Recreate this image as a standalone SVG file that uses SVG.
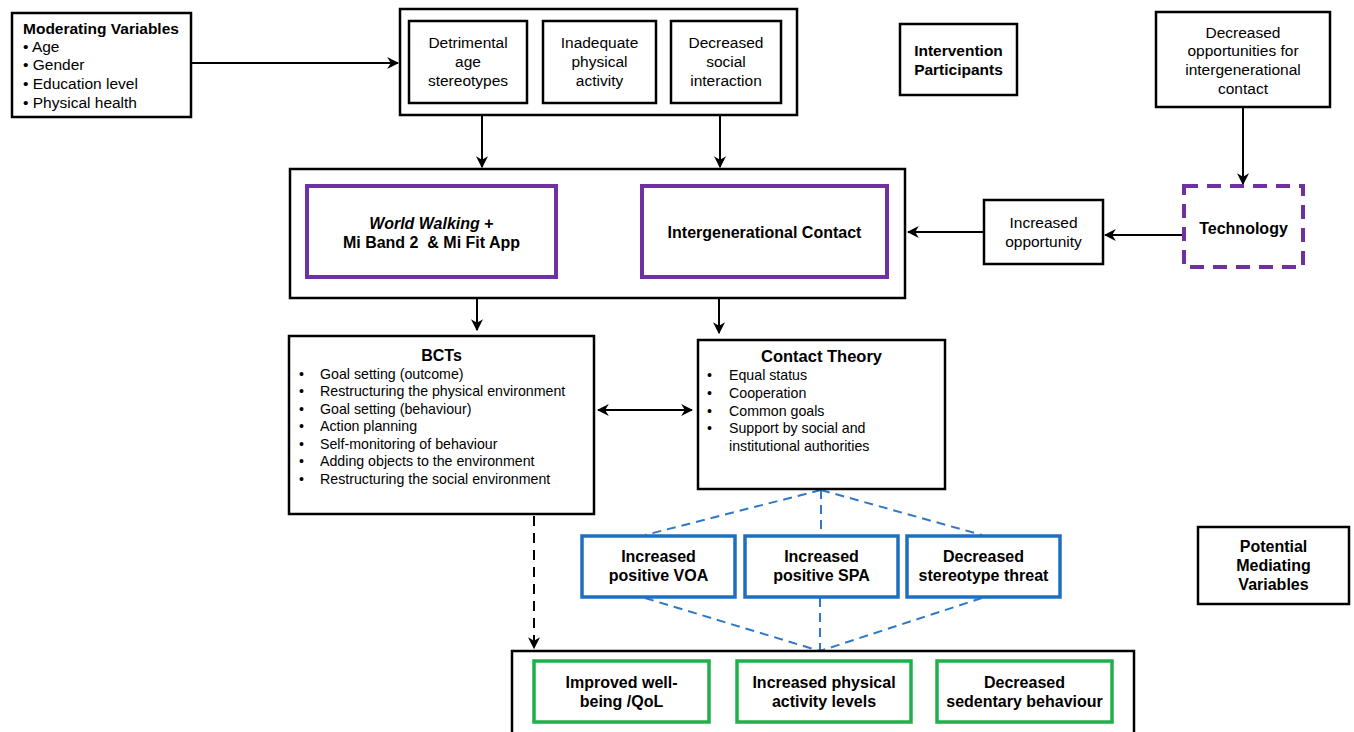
<svg xmlns="http://www.w3.org/2000/svg" width="1354" height="732" viewBox="0 0 1354 732">
<style>
text{font-family:"Liberation Sans",Arial,sans-serif;font-size:15.5px;fill:#000}
.b{font-weight:bold}
.c{text-anchor:middle}
.m{font-size:16px}
.s{font-size:14.2px}
.box{fill:#fff;stroke:#000;stroke-width:2.5}
.pur{fill:#fff;stroke:#7030a0;stroke-width:4}
.pdash{fill:#fff;stroke:#7030a0;stroke-width:4;stroke-dasharray:14 9}
.blue{fill:#fff;stroke:#1f6fc0;stroke-width:3.5}
.green{fill:#fff;stroke:#1fb04a;stroke-width:3.5}
.ln{stroke:#000;stroke-width:2;fill:none}
.bd{stroke:#2f78c8;stroke-width:2;stroke-dasharray:9 6;fill:none}
</style>
<defs>
<marker id="ah2" viewBox="0 0 10 10" refX="9" refY="5" markerWidth="12" markerHeight="12" orient="auto-start-reverse" markerUnits="userSpaceOnUse">
<path d="M0,0 L10,5 L0,10 L3,5 z" fill="#000"/>
</marker>
</defs>

<g id="connectors">
<line class="ln" x1="191" y1="63" x2="398" y2="63" marker-end="url(#ah2)"/>
<line class="ln" x1="482" y1="115" x2="482" y2="167" marker-end="url(#ah2)"/>
<line class="ln" x1="720" y1="115" x2="720" y2="167" marker-end="url(#ah2)"/>
<line class="ln" x1="1243" y1="107" x2="1243" y2="184" marker-end="url(#ah2)"/>
<line class="ln" x1="1183" y1="235" x2="1105" y2="235" marker-end="url(#ah2)"/>
<line class="ln" x1="984" y1="232" x2="908" y2="232" marker-end="url(#ah2)"/>
<line class="ln" x1="477" y1="298" x2="477" y2="330" marker-end="url(#ah2)"/>
<line class="ln" x1="719" y1="298" x2="719" y2="333" marker-end="url(#ah2)"/>
<line class="ln" x1="598" y1="410" x2="692" y2="410" marker-start="url(#ah2)" marker-end="url(#ah2)"/>
<line class="ln" x1="534" y1="516" x2="534" y2="648" stroke-dasharray="10 7" marker-end="url(#ah2)"/>
<line class="bd" x1="821" y1="490" x2="645" y2="535"/>
<line class="bd" x1="821" y1="490" x2="821" y2="535"/>
<line class="bd" x1="821" y1="490" x2="982" y2="535"/>
<line class="bd" x1="645" y1="598" x2="820" y2="651"/>
<line class="bd" x1="820" y1="598" x2="820" y2="651"/>
<line class="bd" x1="982" y1="598" x2="820" y2="651"/>
</g>

<g id="moderating">
<rect class="box" x="12" y="13" width="179" height="104"/>
<text class="b" x="23" y="34">Moderating Variables</text>
<text x="23" y="52">• Age</text>
<text x="23" y="70">• Gender</text>
<text x="23" y="89">• Education level</text>
<text x="23" y="108">• Physical health</text>
</g>

<g id="problems">
<rect class="box" x="400" y="9" width="397" height="106"/>
<g id="detrimental">
<rect class="box" x="409" y="21" width="118" height="82"/>
<text class="c" x="468" y="48">Detrimental</text>
<text class="c" x="468" y="67">age</text>
<text class="c" x="468" y="86">stereotypes</text>
</g>
<g id="inadequate">
<rect class="box" x="543" y="21" width="113" height="82"/>
<text class="c" x="599.5" y="48">Inadequate</text>
<text class="c" x="599.5" y="67">physical</text>
<text class="c" x="599.5" y="86">activity</text>
</g>
<g id="decreased-social">
<rect class="box" x="671" y="21" width="110" height="82"/>
<text class="c" x="726" y="48">Decreased</text>
<text class="c" x="726" y="67">social</text>
<text class="c" x="726" y="86">interaction</text>
</g>
</g>

<g id="participants">
<rect class="box" x="900" y="24" width="117" height="71"/>
<text class="c b" x="958.5" y="56">Intervention</text>
<text class="c b" x="958.5" y="75">Participants</text>
</g>

<g id="decreased-opportunities">
<rect class="box" x="1156" y="12" width="174" height="95"/>
<text class="c" x="1243" y="38">Decreased</text>
<text class="c" x="1243" y="56">opportunities for</text>
<text class="c" x="1243" y="75">intergenerational</text>
<text class="c" x="1243" y="94">contact</text>
</g>

<g id="intervention">
<rect class="box" x="290" y="169" width="615" height="129"/>
<g id="world-walking">
<rect class="pur" x="307" y="186" width="249" height="91"/>
<text class="c b m" x="431.5" y="229"><tspan font-style="italic">World Walking</tspan> +</text>
<text class="c b m" x="431.5" y="248" xml:space="preserve">Mi Band 2  &amp; Mi Fit App</text>
</g>
<g id="intergenerational">
<rect class="pur" x="642" y="186" width="245" height="91"/>
<text class="c b m" x="764.5" y="238">Intergenerational Contact</text>
</g>
</g>

<g id="technology">
<rect class="pdash" x="1184" y="186" width="119" height="81"/>
<text class="c b m" x="1243.5" y="234">Technology</text>
</g>

<g id="increased-opportunity">
<rect class="box" x="984" y="200" width="119" height="64"/>
<text class="c" x="1043.5" y="228">Increased</text>
<text class="c" x="1043.5" y="247">opportunity</text>
</g>

<g id="bcts">
<rect class="box" x="289" y="336" width="305" height="178"/>
<text class="c b m" x="441.5" y="361">BCTs</text>
<g class="s">
<text class="s" x="299" y="379">•</text><text class="s" x="320" y="379">Goal setting (outcome)</text>
<text class="s" x="299" y="396">•</text><text class="s" x="320" y="396">Restructuring the physical environment</text>
<text class="s" x="299" y="414">•</text><text class="s" x="320" y="414">Goal setting (behaviour)</text>
<text class="s" x="299" y="431">•</text><text class="s" x="320" y="431">Action planning</text>
<text class="s" x="299" y="449">•</text><text class="s" x="320" y="449">Self-monitoring of behaviour</text>
<text class="s" x="299" y="466">•</text><text class="s" x="320" y="466">Adding objects to the environment</text>
<text class="s" x="299" y="484">•</text><text class="s" x="320" y="484">Restructuring the social environment</text>
</g>
</g>

<g id="contact-theory">
<rect class="box" x="698" y="340" width="247" height="149"/>
<text class="c b" x="821.5" y="362" style="font-size:16.5px">Contact Theory</text>
<text class="s" x="707" y="380">•</text><text class="s" x="729" y="380">Equal status</text>
<text class="s" x="707" y="398">•</text><text class="s" x="729" y="398">Cooperation</text>
<text class="s" x="707" y="416">•</text><text class="s" x="729" y="416">Common goals</text>
<text class="s" x="707" y="433">•</text><text class="s" x="729" y="433">Support by social and</text>
<text class="s" x="729" y="451">institutional authorities</text>
</g>

<g id="voa">
<rect class="blue" x="582" y="536" width="153" height="61"/>
<text class="c b m" x="658.5" y="562">Increased</text>
<text class="c b m" x="658.5" y="581">positive VOA</text>
</g>
<g id="spa">
<rect class="blue" x="745" y="536" width="153" height="61"/>
<text class="c b m" x="821.5" y="562">Increased</text>
<text class="c b m" x="821.5" y="581">positive SPA</text>
</g>
<g id="threat">
<rect class="blue" x="907" y="536" width="153" height="61"/>
<text class="c b m" x="983.5" y="562">Decreased</text>
<text class="c b m" x="983.5" y="581">stereotype threat</text>
</g>

<g id="mediating">
<rect class="box" x="1198" y="527" width="151" height="77"/>
<text class="c b m" x="1273.5" y="552">Potential</text>
<text class="c b m" x="1273.5" y="571">Mediating</text>
<text class="c b m" x="1273.5" y="590">Variables</text>
</g>

<g id="outcomes">
<rect class="box" x="512" y="651" width="622" height="90"/>
<g id="wellbeing">
<rect class="green" x="534" y="661" width="175" height="61"/>
<text class="c b m" x="621.5" y="688">Improved well-</text>
<text class="c b m" x="621.5" y="707">being /QoL</text>
</g>
<g id="physical">
<rect class="green" x="737" y="661" width="174" height="61"/>
<text class="c b m" x="824" y="688">Increased physical</text>
<text class="c b m" x="824" y="707">activity levels</text>
</g>
<g id="sedentary">
<rect class="green" x="937" y="661" width="175" height="61"/>
<text class="c b m" x="1024.5" y="688">Decreased</text>
<text class="c b m" x="1024.5" y="707">sedentary behaviour</text>
</g>
</g>
</svg>
